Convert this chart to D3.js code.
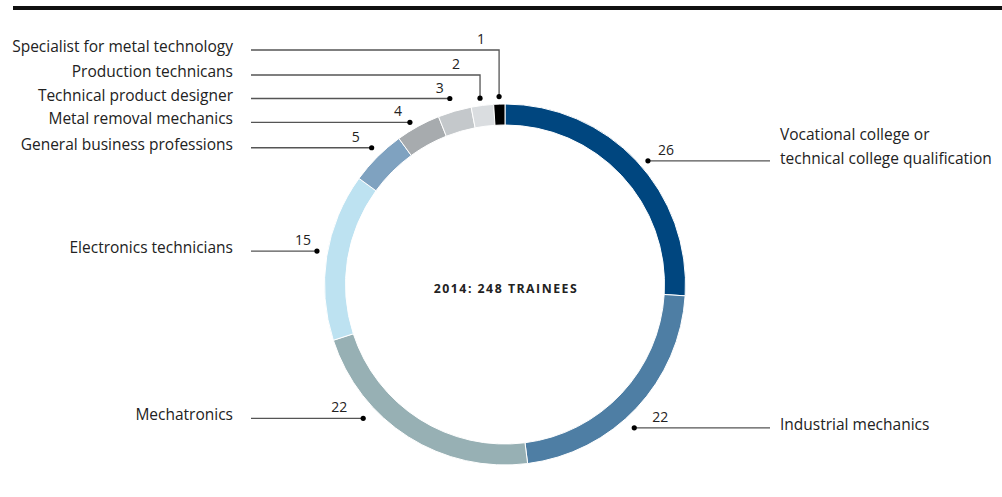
<!DOCTYPE html>
<html>
<head>
<meta charset="utf-8">
<script src="https://cdn.jsdelivr.net/npm/d3@7/dist/d3.min.js"></script>
<style>
  html, body { margin: 0; padding: 0; background: #fff; }
  svg { display: block; }
  text { font-family: "Open Sans", "Noto Sans", sans-serif; fill: #222; }
</style>
</head>
<body>
<svg id="chart" width="1002" height="497"></svg>
<script>
// Trainee shares by occupation (percent), clockwise from the top
const categories = [
  "Vocational college or\ntechnical college qualification",
  "Industrial mechanics",
  "Mechatronics",
  "Electronics technicians",
  "General business professions",
  "Metal removal mechanics",
  "Technical product designer",
  "Production technicans",
  "Specialist for metal technology"
];
const values = [26, 22, 22, 15, 5, 4, 3, 2, 1];
const colors = ["#00467f", "#4e7ea4", "#97b0b4", "#bde2f1", "#7fa2c0",
                "#a7abae", "#c4c8cb", "#dadde0", "#000000"];
const centerTitle = "2014: 248 TRAINEES";

// Leader-line layout: where inside each slice the leader starts, which side
// the label sits on, an optional elbow row for the thin slices, and number offsets
const leaderLayout = [
  { frac: 0.525, r: 189, side: "right", numDx: 10 },
  { frac: 0.56, r: 193, side: "right", numDx: 18 },
  { frac: 0.68, r: 195, side: "left",  numDx: -16 },
  { frac: 0.52, r: 191, side: "left",  numDx: -6 },
  { frac: 0.54, r: 191, side: "left",  numDx: -12 },
  { frac: 0.39, r: 188, side: "left",  numDx: -8 },
  { frac: 0.47, r: 194, side: "left",  numDx: -6 },
  { frac: 0.44, r: 188, side: "left",  numDx: -20, elbowY: 75 },
  { frac: 0.50, r: 188, side: "left",  numDx: -14, elbowY: 50 }
];

const svg = d3.select("#chart");
const W = 1002, H = 497;
const cx = 505, cy = 284.5;
const outerR = 180.5, innerR = 159.5;
const leftLineStart = 251, leftTextEnd = 233;
const rightLineEnd = 770, rightTextStart = 780;

// Top rule
svg.append("rect").attr("x", 13).attr("y", 6).attr("width", W - 13).attr("height", 4).attr("fill", "#111");

const data = categories.map((c, i) => ({ name: c, value: values[i], color: colors[i], layout: leaderLayout[i] }));

const pie = d3.pie().sort(null).value(d => d.value).startAngle(0).endAngle(2 * Math.PI);
const arc = d3.arc().innerRadius(innerR).outerRadius(outerR);
const arcs = pie(data);

const g = svg.append("g").attr("transform", `translate(${cx},${cy})`);
g.selectAll("path.slice")
  .data(arcs)
  .join("path")
  .attr("class", "slice")
  .attr("d", arc)
  .attr("fill", d => d.data.color)
  .attr("stroke", "#fff")
  .attr("stroke-width", 1);

// Centre caption
svg.append("text")
  .attr("x", cx + 1).attr("y", cy + 8.5)
  .attr("text-anchor", "middle")
  .attr("font-size", 12.3)
  .attr("font-weight", 700)
  .attr("letter-spacing", 1.5)
  .attr("fill", "#1a1a1a")
  .text(centerTitle);

// Leaders, values and names
const lines = svg.append("g");
arcs.forEach(a => {
  const L = a.data.layout;
  const ang = a.startAngle + (a.endAngle - a.startAngle) * L.frac;
  const px = cx + L.r * Math.sin(ang);
  const py = cy - L.r * Math.cos(ang);
  const rowY = L.elbowY !== undefined ? L.elbowY : py;
  const endX = L.side === "left" ? leftLineStart : rightLineEnd;

  const pts = L.elbowY !== undefined
    ? [[endX, rowY], [px, rowY], [px, py]]
    : [[endX, rowY], [px, py]];
  lines.append("path")
    .attr("d", d3.line()(pts))
    .attr("fill", "none")
    .attr("stroke", "#555")
    .attr("stroke-width", 1.3);
  lines.append("circle").attr("cx", px).attr("cy", py).attr("r", 2.6).attr("fill", "#000");

  // value label above the row
  lines.append("text")
    .attr("x", px + L.numDx)
    .attr("y", rowY - 6)
    .attr("text-anchor", L.side === "left" ? "end" : "start")
    .attr("font-size", 14)
    .text(a.data.value);

  // category name
  const parts = a.data.name.split("\n");
  const t = lines.append("text")
    .attr("x", L.side === "left" ? leftTextEnd : rightTextStart)
    .attr("text-anchor", L.side === "left" ? "end" : "start")
    .attr("font-size", 15.5);
  if (parts.length === 1) {
    t.attr("y", rowY + 2).text(parts[0]);
  } else {
    parts.forEach((p, i) => {
      t.append("tspan")
        .attr("x", rightTextStart)
        .attr("y", rowY - 20.5 + i * 23.5)
        .text(p);
    });
  }
});
</script>
</body>
</html>
